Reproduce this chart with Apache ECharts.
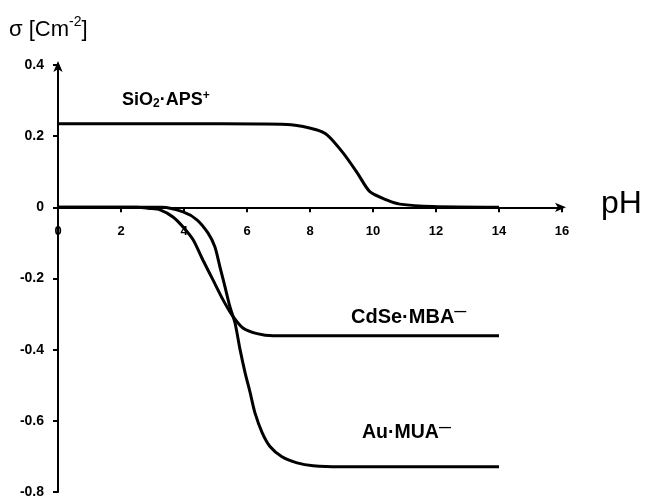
<!DOCTYPE html>
<html>
<head>
<meta charset="utf-8">
<script src="https://cdn.jsdelivr.net/npm/echarts@6/dist/echarts.min.js"></script>
<style>
  html, body { margin: 0; padding: 0; background: #fff; }
  #main { width: 648px; height: 500px; }
</style>
</head>
<body>
<div id="main"></div>
<script>
// surface charge vs pH
const phSio2 = [0, 2, 4, 6.4, 7.4, 8.2, 8.55, 9.05, 9.5, 9.9, 10.45, 10.85, 11.9, 14];
const sigmaSio2 = [0.235, 0.235, 0.235, 0.234, 0.232, 0.218, 0.203, 0.153, 0.097, 0.044, 0.02, 0.009, 0.002, 0];

const phCdse = [0, 2.5, 2.9, 3.24, 3.65, 3.97, 4.29, 4.6, 4.92, 5.24, 5.52, 5.87, 6.32, 6.83, 14];
const sigmaCdse = [0, 0, -0.003, -0.007, -0.027, -0.055, -0.091, -0.148, -0.204, -0.26, -0.302, -0.339, -0.355, -0.361, -0.361];

const phAu = [0, 3.3, 3.97, 4.41, 4.76, 4.98, 5.14, 5.3, 5.46, 5.62, 5.78, 5.94, 6.1, 6.25, 6.48, 6.73, 7.11, 7.59, 8.1, 8.95, 14];
const sigmaAu = [0, 0, -0.013, -0.035, -0.072, -0.111, -0.167, -0.223, -0.28, -0.325, -0.4, -0.465, -0.521, -0.577, -0.633, -0.672, -0.701, -0.718, -0.726, -0.729, -0.729];

const xTicks = { min: 0, max: 16, interval: 2 };
const yTicks = { min: -0.8, max: 0.4, interval: 0.2 };

const pairs = (xs, ys) => xs.map((x, i) => [x, ys[i]]);

const font = 'Liberation Sans, Arial, sans-serif';

const gridTop = 65, gridBottom = 8, chartH = 500;
// put the pH axis on sigma = 0
const plotH = chartH - gridTop - gridBottom;
const zeroFromBottom = plotH * (0 - yTicks.min) / (yTicks.max - yTicks.min);

const lineSeries = (name, xs, ys) => ({
  name: name,
  type: 'line',
  data: pairs(xs, ys),
  smooth: 0.25,
  showSymbol: false,
  lineStyle: { color: '#000', width: 3 },
  z: 3
});

const axisCommon = {
  type: 'value',
  splitLine: { show: false },
  axisLine: {
    onZero: false,
    lineStyle: { color: '#000', width: 2 },
    symbol: ['none', 'arrow'],
    symbolSize: [7, 11],
    symbolOffset: [0, 4]
  },
  axisTick: { show: true, length: 5, lineStyle: { color: '#000', width: 2 } }
};

const options = {
  animation: false,
  grid: {
    left: 58, right: 86, top: gridTop, bottom: gridBottom,
    containLabel: false, outerBoundsMode: 'none'
  },
  xAxis: Object.assign({}, axisCommon, xTicks, {
    offset: -zeroFromBottom,
    axisLabel: { color: '#000', fontWeight: 'bold', fontSize: 13, fontFamily: font, margin: 18 }
  }),
  yAxis: Object.assign({}, axisCommon, yTicks, {
    axisLabel: { color: '#000', fontWeight: 'bold', fontSize: 14, fontFamily: font, margin: 14 }
  }),
  series: [
    lineSeries('SiO2·APS+', phSio2, sigmaSio2),
    lineSeries('CdSe·MBA-', phCdse, sigmaCdse),
    lineSeries('Au·MUA-', phAu, sigmaAu)
  ],
  graphic: [
    {
      type: 'text', left: 9, top: 15,
      style: {
        text: '{a|σ [Cm}{s|-2}{a|]}',
        fill: '#000',
        rich: {
          a: { fontSize: 22, fontFamily: font, lineHeight: 26, verticalAlign: 'bottom' },
          s: { fontSize: 14, fontFamily: font, lineHeight: 14, verticalAlign: 'top' }
        }
      }
    },
    {
      type: 'text', left: 601, top: 188,
      style: { text: 'pH', fill: '#000', fontSize: 32, fontFamily: font }
    },
    {
      type: 'text', left: 122, top: 90,
      style: {
        text: '{b|SiO}{sub|2}{b|·APS}{sup|+}',
        fill: '#000',
        rich: {
          b: { fontSize: 18, fontWeight: 'bold', fontFamily: font, lineHeight: 20 },
          sub: { fontSize: 12, fontWeight: 'bold', fontFamily: font, lineHeight: 12, verticalAlign: 'bottom' },
          sup: { fontSize: 12, fontWeight: 'bold', fontFamily: font, lineHeight: 12, verticalAlign: 'top' }
        }
      }
    },
    {
      type: 'text', left: 351, top: 306,
      style: {
        text: '{b|CdSe·MBA}{sup|—}',
        fill: '#000',
        rich: {
          b: { fontSize: 20, fontWeight: 'bold', fontFamily: font, lineHeight: 22 },
          sup: { fontSize: 12, fontWeight: 'bold', fontFamily: font, lineHeight: 8, verticalAlign: 'top' }
        }
      }
    },
    {
      type: 'text', left: 362, top: 422,
      style: {
        text: '{b|Au·MUA}{sup|—}',
        fill: '#000',
        rich: {
          b: { fontSize: 19.5, fontWeight: 'bold', fontFamily: font, lineHeight: 22 },
          sup: { fontSize: 12, fontWeight: 'bold', fontFamily: font, lineHeight: 8, verticalAlign: 'top' }
        }
      }
    }
  ]
};

const myChart = echarts.init(document.getElementById('main'));
myChart.setOption(options);
</script>
</body>
</html>
